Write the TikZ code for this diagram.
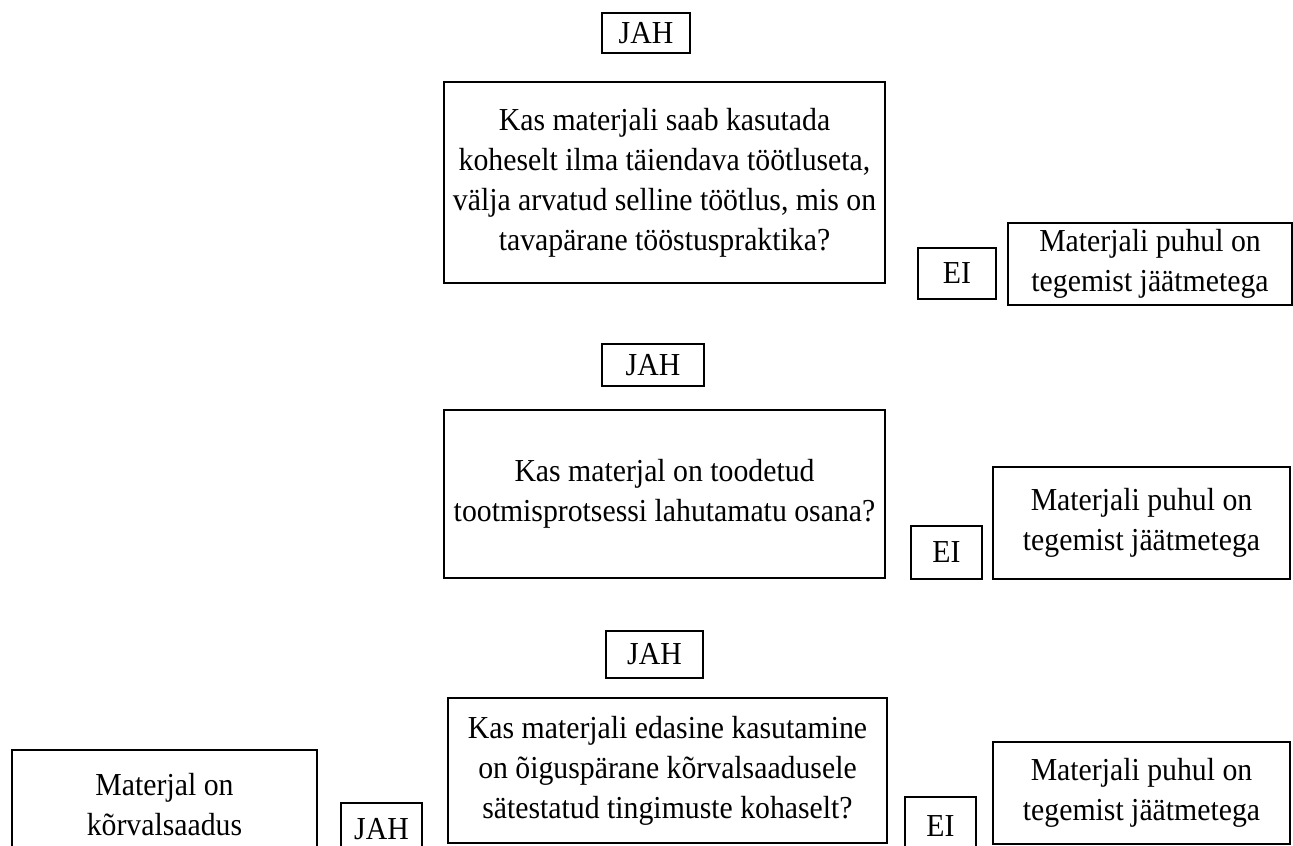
\documentclass[tikz,border=0pt]{standalone}
\usepackage{fontspec}
\setmainfont{Liberation Serif}[FakeStretch=0.93]
\usepackage{tikz}
\usetikzlibrary{positioning}

\tikzset{
every picture/.style={
line width=1.8pt
}}

\begin{document}
\begin{tikzpicture}[
    x=0.75pt, y=-0.75pt,
      base/.style = {draw, line width=1.8pt, align=center, inner sep=0pt,
                     outer sep=0pt, anchor=north west,
                     font=\fontsize{24}{30}\selectfont},
      size/.style 2 args = {minimum width=#1*0.75pt, minimum height=#2*0.75pt},
  question/.style = {base},
    answer/.style = {base},
    result/.style = {base}
                    ]
\clip (0,0) rectangle (1293,846);
% first question
\node [answer, size={88}{40}]    (J1) at (602,13)   {JAH};
\node [question, size={441}{201}] (Q1) at (444,82)  {Kas materjali saab kasutada\\
      koheselt ilma täiendava töötluseta,\\ välja arvatud selline töötlus, mis on\\
      tavapärane tööstuspraktika?};
\node [answer, size={78}{51}]    (E1) at (918,248)  {EI};
\node [result, size={284}{82}]   (R1) at (1008,223) {Materjali puhul on\\ tegemist jäätmetega};
% second question
\node [answer, size={102}{42}]   (J2) at (602,344)  {JAH};
\node [question, size={441}{168}] (Q2) at (444,410) {Kas materjal on toodetud\\
      tootmisprotsessi lahutamatu osana?};
\node [answer, size={71}{53}]    (E2) at (911,526)  {EI};
\node [result, size={297}{112}]  (R2) at (993,467)  {Materjali puhul on\\ tegemist jäätmetega};
% third question
\node [answer, size={97}{47}]    (J3) at (606,631)  {JAH};
\node [question, size={439}{145}] (Q3) at (448,698) {Kas materjali edasine kasutamine\\
      on õiguspärane kõrvalsaadusele\\ sätestatud tingimuste kohaselt?};
\node [answer, size={71}{58}]    (E3) at (905,797)  {EI};
\node [result, size={297}{102}]  (R3) at (993,742)  {Materjali puhul on\\ tegemist jäätmetega};
\node [answer, size={81}{53}]    (J4) at (341,803)  {JAH};
\node [result, size={305}{110}]  (R4) at (12,750)   {Materjal on\\ kõrvalsaadus};
\end{tikzpicture}
\end{document}
